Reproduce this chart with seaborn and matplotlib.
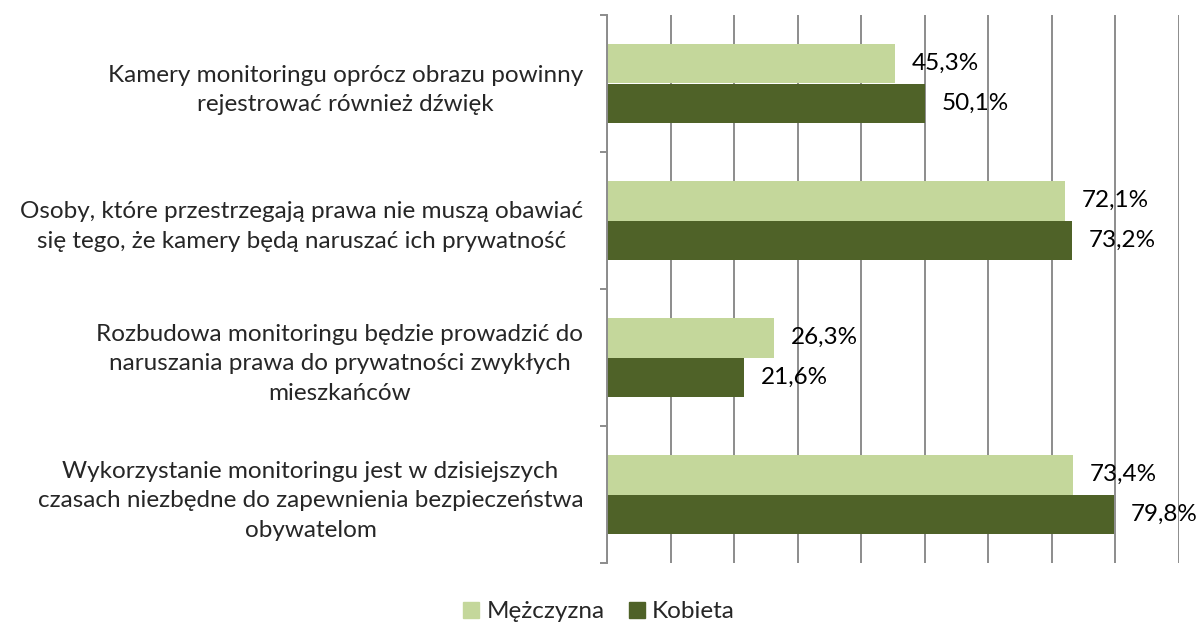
import matplotlib
matplotlib.use("Agg")
import matplotlib.pyplot as plt
import seaborn as sns
import numpy as np
import pandas as pd
from matplotlib.ticker import FixedLocator

# Data
statements = [
    "Kamery monitoringu oprócz obrazu powinny\nrejestrować również dźwięk",
    "Osoby, które przestrzegają prawa nie muszą obawiać\nsię tego, że kamery będą naruszać ich prywatność",
    "Rozbudowa monitoringu będzie prowadzić do\nnaruszania prawa do prywatności zwykłych\nmieszkańców",
    "Wykorzystanie monitoringu jest w dzisiejszych\nczasach niezbędne do zapewnienia bezpieczeństwa\nobywatelom",
]
groups = ["Mężczyzna", "Kobieta"]
men = [45.3, 72.1, 26.3, 73.4]
women = [50.1, 73.2, 21.6, 79.8]

df = pd.DataFrame({
    "Stwierdzenie": statements * 2,
    "Płeć": [groups[0]] * 4 + [groups[1]] * 4,
    "Odsetek": men + women,
})

sns.set_style("white")
plt.rcParams["font.family"] = ["Lato", "DejaVu Sans"]
FS = 17.5

fig = plt.figure(figsize=(11.98, 6.27), dpi=100)
ax = fig.add_axes([607 / 1198, 1 - 563 / 627, (1179 - 607) / 1198, (563 - 15) / 627])

palette = {"Mężczyzna": "#C4D79B", "Kobieta": "#4F6228"}
sns.barplot(data=df, y="Stwierdzenie", x="Odsetek", hue="Płeć", hue_order=groups,
            order=statements, palette=palette, width=0.58, orient="h",
            saturation=1, linewidth=0, ax=ax, legend=False)

ax.set_xlim(0, 90)
ax.set_ylim(3.5, -0.5)
ax.set_xticks(np.arange(0, 91, 10))
ax.set_xticklabels([])
ax.tick_params(axis="x", length=0)
ax.grid(axis="x", color="#8C8C8C", linewidth=1.4)
ax.set_axisbelow(True)

# category boundary ticks on the left axis
ax.yaxis.set_minor_locator(FixedLocator(np.arange(-0.5, 4, 1)))
ax.tick_params(axis="y", which="minor", length=5, width=1.4, color="#8C8C8C", left=True)
ax.tick_params(axis="y", which="major", length=0, pad=17, labelsize=FS)
for lbl in ax.get_yticklabels():
    lbl.set_multialignment("center")
    lbl.set_linespacing(1.5)

for side in ["top", "right", "bottom"]:
    ax.spines[side].set_visible(False)
ax.spines["left"].set_color("#8C8C8C")
ax.spines["left"].set_linewidth(1.4)
ax.set_xlabel("")
ax.set_ylabel("")

for cont, vals in zip(ax.containers, [men, women]):
    labels = [f"{v:.1f}%".replace(".", ",") for v in vals]
    ax.bar_label(cont, labels=labels, padding=12, fontsize=FS, color="#000000")

handles = [plt.Rectangle((0, 0), 1, 1, color=palette[g]) for g in groups]
fig.legend(handles, groups, loc="center", bbox_to_anchor=(0.5, 1 - 612 / 627), ncol=2,
           frameon=False, fontsize=FS, handlelength=0.65, handleheight=0.65,
           handletextpad=0.3, columnspacing=1.0)

fig.savefig("out.png", dpi=100)
